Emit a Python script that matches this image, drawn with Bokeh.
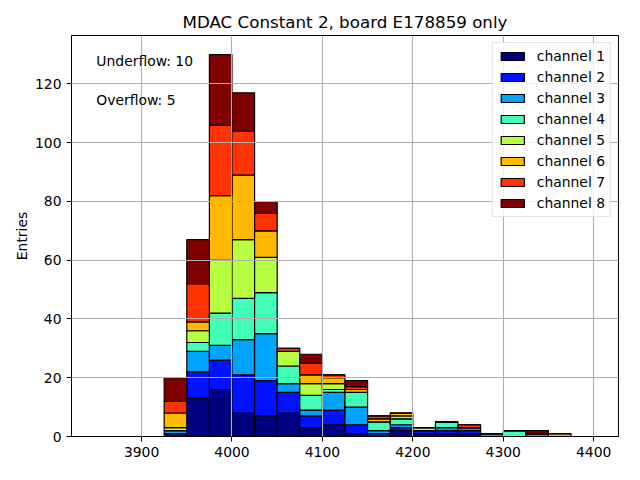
import numpy as np
from bokeh.plotting import figure
from bokeh.models import ColumnDataSource, FixedTicker, Label
from bokeh.embed import file_html
from bokeh.resources import INLINE

# ---- data ----
bin_left = [3850, 3875, 3900, 3925, 3950, 3975, 4000, 4025, 4050, 4075, 4100,
            4125, 4150, 4175, 4200, 4225, 4250, 4275, 4300, 4325, 4350, 4375]
bin_width = 25

ch1 = [0, 0, 0, 1, 13, 16, 8, 7, 8, 3, 4, 1, 0, 2, 1, 1, 1, 0, 0, 0, 0, 0]
ch2 = [0, 0, 0, 0, 9, 10, 13, 12, 7, 4, 5, 3, 1, 1, 1, 1, 1, 0, 0, 0, 0, 0]
ch3 = [0, 0, 0, 1, 7, 5, 12, 16, 3, 2, 6, 6, 1, 1, 0, 1, 1, 1, 0, 1, 0, 0]
ch4 = [0, 0, 0, 0, 3, 11, 14, 14, 6, 5, 1, 5, 3, 2, 0, 2, 0, 0, 2, 0, 0, 0]
ch5 = [0, 0, 0, 1, 4, 18, 20, 12, 5, 4, 2, 0, 0, 1, 1, 0, 0, 0, 0, 0, 0, 0]
ch6 = [0, 0, 0, 5, 3, 22, 22, 9, 0, 3, 2, 1, 1, 1, 0, 0, 0, 0, 0, 0, 1, 0]
ch7 = [0, 0, 0, 4, 13, 24, 15, 6, 1, 4, 1, 1, 1, 0, 0, 0, 1, 0, 0, 0, 0, 0]
ch8 = [0, 0, 0, 8, 15, 24, 13, 4, 0, 3, 0, 2, 0, 0, 0, 0, 0, 0, 0, 1, 0, 0]

channel_names = ["channel 1", "channel 2", "channel 3", "channel 4",
                 "channel 5", "channel 6", "channel 7", "channel 8"]
colors = ["#000080", "#0012ff", "#00a4ff", "#41ffb6",
          "#b6ff41", "#ffb900", "#ff3200", "#800000"]

x_ticks = [3900, 4000, 4100, 4200, 4300, 4400]
y_ticks = [0, 20, 40, 60, 80, 100, 120]

underflow = 10
overflow = 5
title_text = "MDAC Constant 2, board E178859 only"

# ---- build ----
keys = ["ch1", "ch2", "ch3", "ch4", "ch5", "ch6", "ch7", "ch8"]
data = dict(x=[b + bin_width / 2 for b in bin_left])
for k, v in zip(keys, [ch1, ch2, ch3, ch4, ch5, ch6, ch7, ch8]):
    data[k] = v
source = ColumnDataSource(data)

FONT = "DejaVu Sans"

p = figure(width=624, height=464, output_backend="svg", toolbar_location=None,
           x_range=(3822.5, 4427.5), y_range=(0, 136.5),
           min_border_left=71, min_border_right=6, min_border_top=35,
           min_border_bottom=28, title=title_text)

p.title.text_font = FONT
p.title.text_font_size = "16.7px"
p.title.text_font_style = "normal"
p.title.text_color = "black"
p.title.align = "center"
p.title.standoff = 7

p.vbar_stack(keys, x="x", width=bin_width, source=source,
             fill_color=colors, line_color="black", line_width=1.2,
             legend_label=channel_names)

p.xaxis.ticker = FixedTicker(ticks=x_ticks)
p.yaxis.ticker = FixedTicker(ticks=y_ticks)
p.yaxis.axis_label = "Entries"
p.yaxis.axis_label_standoff = 2
for ax in (p.xaxis, p.yaxis):
    ax.major_label_text_font = FONT
    ax.major_label_text_font_size = "13.9px"
    ax.major_label_text_color = "black"
    ax.axis_label_text_font = FONT
    ax.axis_label_text_font_size = "13.9px"
    ax.axis_label_text_font_style = "normal"
    ax.axis_label_text_color = "black"
    ax.major_tick_out = 5
    ax.major_tick_in = 0
    ax.minor_tick_out = 0
    ax.minor_tick_in = 0
    ax.axis_line_color = "black"
    ax.major_tick_line_color = "black"

p.outline_line_color = "black"
p.outline_line_width = 1
p.outline_line_alpha = 1

for g in (p.xgrid, p.ygrid):
    g.grid_line_color = "#b0b0b0"
    g.grid_line_width = 1.1
    g.level = "guide"

p.add_layout(Label(x=3850, y=127.8, text=f"Underflow: {underflow}",
                   text_font=FONT, text_font_size="13.9px", text_color="black",
                   text_baseline="middle", text_align="left"))
p.add_layout(Label(x=3850, y=114.7, text=f"Overflow: {overflow}",
                   text_font=FONT, text_font_size="13.9px", text_color="black",
                   text_baseline="middle", text_align="left"))

lg = p.legend[0]
lg.location = "top_right"
lg.margin = 7
lg.padding = 5
lg.spacing = 5
lg.glyph_width = 29
lg.glyph_height = 10
lg.label_height = 14
lg.label_standoff = 10
lg.label_text_font = FONT
lg.label_text_font_size = "13.9px"
lg.label_text_color = "black"
lg.border_line_color = "#cccccc"
lg.border_line_width = 1
lg.background_fill_alpha = 0.8

open("out.html", "w").write(file_html(p, INLINE))
